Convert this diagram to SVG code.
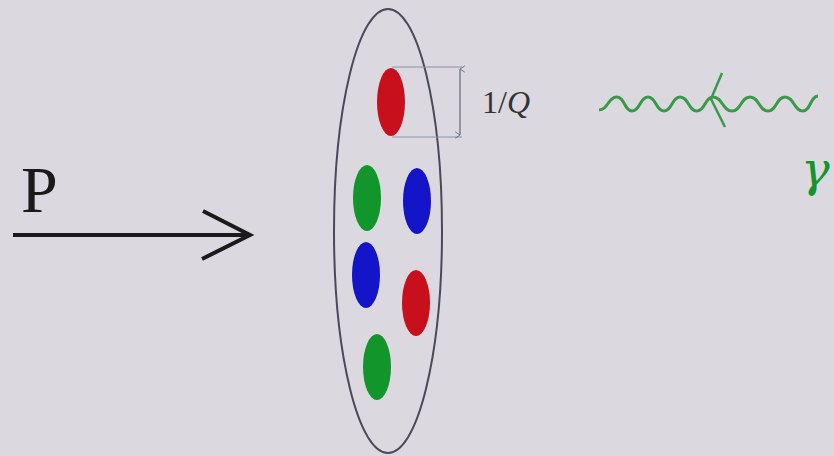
<svg xmlns="http://www.w3.org/2000/svg" width="834" height="456" viewBox="0 0 834 456">
  <style>
    .quark { stroke: none; }
    .red { fill: #c8101c; }
    .green { fill: #12952a; }
    .blue { fill: #1414c8; }
    .serif { font-family: "Liberation Serif", "DejaVu Serif", serif; }
  </style>
  <defs>
    <marker id="tick" viewBox="0 0 10 10" refX="5" refY="1" markerWidth="8" markerHeight="8" orient="auto-start-reverse" markerUnits="userSpaceOnUse">
      <path d="M1,7 L5,1 L9,7" fill="none" stroke="#6a6f88" stroke-width="1.2"/>
    </marker>
  </defs>
  <rect width="834" height="456" fill="#dbd9df"/>

  <!-- incoming proton momentum -->
  <g id="momentum">
    <text class="serif" x="21" y="212" font-size="66" fill="#1a1a1a">P</text>
    <line x1="13" y1="235" x2="248" y2="235" stroke="#1a1a1a" stroke-width="4"/>
    <polyline points="203,211 250,235 202,259" fill="none" stroke="#1a1a1a" stroke-width="4" stroke-linejoin="miter"/>
  </g>

  <!-- Lorentz-contracted proton -->
  <g id="proton">
    <ellipse cx="388" cy="231" rx="54" ry="222" fill="none" stroke="#4a4a58" stroke-width="2"/>
  </g>

  <g id="quarks">
    <ellipse class="quark red" cx="391" cy="102" rx="14" ry="34"/>
    <ellipse class="quark green" cx="367" cy="198" rx="14" ry="33"/>
    <ellipse class="quark blue" cx="417" cy="201" rx="14" ry="33"/>
    <ellipse class="quark blue" cx="366" cy="275" rx="14" ry="33"/>
    <ellipse class="quark red" cx="416" cy="303" rx="14" ry="33"/>
    <ellipse class="quark green" cx="377" cy="367" rx="14" ry="33"/>
  </g>

  <!-- resolution scale -->
  <g id="scale">
    <path d="M392,67 H462 M392,137 H462" fill="none" stroke="#8a8fa8" stroke-width="1"/>
    <line x1="460" y1="69" x2="460" y2="135" stroke="#6a6f88" stroke-width="1.3" marker-start="url(#tick)" marker-end="url(#tick)"/>
    <text class="serif" x="482" y="113" font-size="32" fill="#333">1/<tspan font-style="italic">Q</tspan></text>
  </g>

  <!-- virtual photon probe -->
  <g id="photon">
    <path d="M599,110 C608,110 608,97 617,97 C624.5,97 624.5,111 632,111 C640,111 640,97 648,97 C656,97 656,111 664,111 C672,111 672,97 680,97 C688.5,97 688.5,111 697,111 C705,111 705,97 713,97 C722.5,97 722.5,111 732,111 C741,111 741,97 750,97 C759,97 759,111 768,111 C776.5,111 776.5,97 785,97 C794,97 794,111 803,111 C810.5,111 810.5,96 818,96" fill="none" stroke="#3a9a4a" stroke-width="3"/>
    <polyline points="722,73 711,99 725,127" fill="none" stroke="#3a9a4a" stroke-width="2.5"/>
    <text x="801" y="186" font-family="'DejaVu Serif', serif" font-size="48" font-style="italic" fill="#12952a">γ</text>
  </g>
</svg>
